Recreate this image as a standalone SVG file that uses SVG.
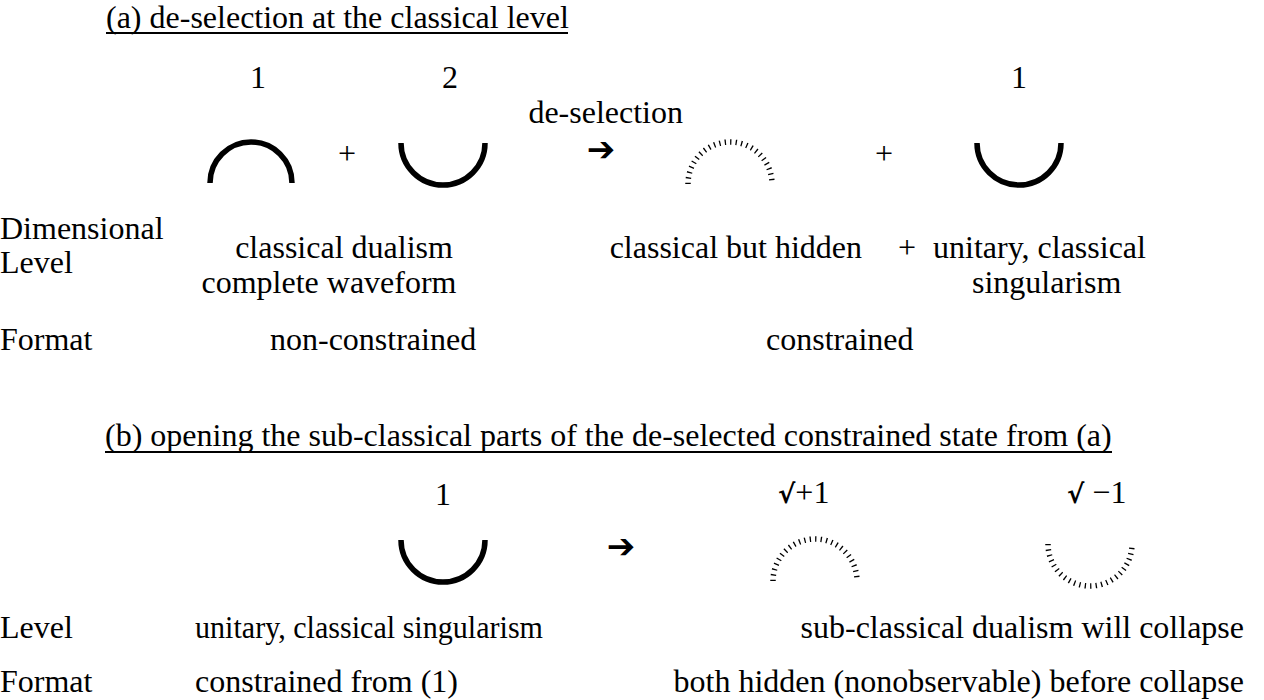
<svg xmlns="http://www.w3.org/2000/svg" width="1264" height="700" viewBox="0 0 1264 700" font-family="'Liberation Serif', 'DejaVu Serif', serif">
<style>
  .t { font-family: 'Liberation Serif', 'DejaVu Serif', serif; font-size: 32px; fill: #000; }
  .arrow { font-family: 'DejaVu Sans', sans-serif; font-size: 34px; font-weight: bold; fill: #000; }
  .rad { font-family: 'DejaVu Sans', sans-serif; font-size: 26px; font-weight: bold; }
  .solid { fill: none; stroke: #000; stroke-width: 5.5; }
  .dash { fill: none; stroke: #000; stroke-width: 5.5; stroke-dasharray: 1.3 4.2; }
  .ul { stroke: #000; stroke-width: 2; }
</style>
<rect width="1264" height="700" fill="#fff"/>

<g id="section-a">
  <g id="title-a">
    <text class="t" x="106" y="28">(a) de-selection at the classical level</text>
    <line class="ul" x1="106" y1="33" x2="568" y2="33"/>
  </g>
  <g id="a-wave1">
    <text class="t" x="258" y="88" text-anchor="middle">1</text>
    <path class="solid" d="M210 183 A41 41 0 0 1 292 183"/>
  </g>
  <g id="a-plus1"><text class="t" x="347" y="164" text-anchor="middle">+</text></g>
  <g id="a-wave2">
    <text class="t" x="450" y="88" text-anchor="middle">2</text>
    <path class="solid" d="M401 143 A42 42 0 0 0 485 143"/>
  </g>
  <g id="a-arrow">
    <text class="t" x="683" y="123" text-anchor="end">de-selection</text>
    <text class="arrow" x="601" y="161" text-anchor="middle">➔</text>
  </g>
  <g id="a-hidden">
    <path class="dash" d="M688 184 A42 42 0 0 1 772 184"/>
  </g>
  <g id="a-plus2"><text class="t" x="884" y="164" text-anchor="middle">+</text></g>
  <g id="a-wave3">
    <text class="t" x="1019" y="88" text-anchor="middle">1</text>
    <path class="solid" d="M977 143 A42 42 0 0 0 1061 143"/>
  </g>
  <g id="a-level">
    <text class="t" x="0" y="239">Dimensional</text>
    <text class="t" x="0" y="273">Level</text>
    <text class="t" x="344" y="258" text-anchor="middle">classical dualism</text>
    <text class="t" x="329" y="293" text-anchor="middle">complete waveform</text>
    <text class="t" x="862" y="258" text-anchor="end">classical but hidden</text>
    <text class="t" x="907" y="258" text-anchor="middle">+</text>
    <text class="t" x="933" y="258">unitary, classical</text>
    <text class="t" x="972" y="293">singularism</text>
  </g>
  <g id="a-format">
    <text class="t" x="0" y="350">Format</text>
    <text class="t" x="270" y="350">non-constrained</text>
    <text class="t" x="766" y="350">constrained</text>
  </g>
</g>

<g id="section-b">
  <g id="title-b">
    <text class="t" x="105" y="446">(b) opening the sub-classical parts of the de-selected constrained state from (a)</text>
    <line class="ul" x1="105" y1="452" x2="1112" y2="452"/>
  </g>
  <g id="b-wave1">
    <text class="t" x="443" y="505" text-anchor="middle">1</text>
    <path class="solid" d="M401 540 A42 42 0 0 0 485 540"/>
  </g>
  <g id="b-arrow">
    <text class="arrow" x="621" y="558" text-anchor="middle">➔</text>
  </g>
  <g id="b-plus">
    <text class="t" x="778" y="503"><tspan class="rad">√</tspan>+1</text>
    <path class="dash" d="M773 581 A42 42 0 0 1 857 581"/>
  </g>
  <g id="b-minus">
    <text class="t" x="1067" y="503"><tspan class="rad">√</tspan> −1</text>
    <path class="dash" d="M1048 544 A42 42 0 0 0 1132 544"/>
  </g>
  <g id="b-level">
    <text class="t" x="0" y="638">Level</text>
    <text class="t" x="195" y="638" textLength="348" lengthAdjust="spacingAndGlyphs">unitary, classical singularism</text>
    <text class="t" x="1244" y="638" text-anchor="end">sub-classical dualism will collapse</text>
  </g>
  <g id="b-format">
    <text class="t" x="0" y="692">Format</text>
    <text class="t" x="195" y="692">constrained from (1)</text>
    <text class="t" x="1244" y="692" text-anchor="end">both hidden (nonobservable) before collapse</text>
  </g>
</g>
</svg>
